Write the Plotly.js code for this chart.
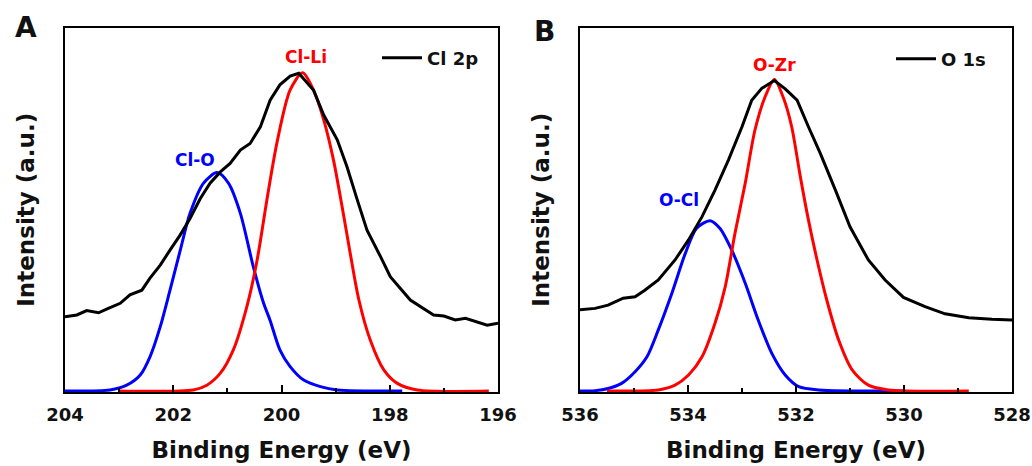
<!DOCTYPE html>
<html>
<head>
<meta charset="utf-8">
<script src="https://cdn.plot.ly/plotly-3.0.1.min.js"></script>
<style>html,body{margin:0;padding:0;background:#fff;}#chart{width:1032px;height:466px;}</style>
</head>
<body>
<div id="chart"></div>
<script>
// ---- Panel A: Cl 2p ----
const clEnergy = [204.00,203.78,203.60,203.38,203.20,202.98,202.80,202.58,202.43,202.24,202.06,201.87,201.69,201.50,201.32,201.13,200.95,200.76,200.58,200.39,200.21,200.03,199.84,199.68,199.41,199.22,198.97,198.79,198.60,198.42,198.17,197.99,197.62,197.19,197.00,196.79,196.60,196.20,196.00];
const clIntensity = [20.4,20.9,22.1,21.5,22.7,24.1,26.4,27.7,31.0,34.6,38.7,42.9,47.4,52.9,57.1,60.2,62.5,66.2,68.0,72.6,79.9,84.1,86.5,87.3,82.7,75.8,69.0,61.6,52.5,44.2,36.9,31.4,25.0,20.9,20.6,19.5,20.0,18.1,18.6];

const clLiEnergy = [203.01,201.63,201.38,201.13,200.89,200.64,200.45,200.27,200.08,199.84,199.61,199.41,199.22,199.04,198.88,198.73,198.57,198.36,198.11,197.86,197.49,196.17];
const clLiFit = [0,0.3,1.6,4.9,11.3,23.2,36.0,52.5,68.5,82.7,87.4,82.7,74.5,63.5,50.6,37.8,25.0,14.0,5.8,2.1,0.3,0];

const clOEnergy = [204.00,203.17,202.86,202.61,202.43,202.24,202.06,201.87,201.69,201.44,201.19,200.98,200.76,200.52,200.33,200.21,200.03,199.84,199.59,199.28,198.97,197.77];
const clOFit = [0,0.3,1.6,4.4,9.4,17.7,27.7,38.7,48.8,57.1,60.0,57.1,48.8,34.1,24.1,19.4,11.3,6.7,3.0,1.2,0.3,0];

// ---- Panel B: O 1s ----
const oEnergy = [536.00,535.72,535.48,535.20,534.98,534.80,534.55,534.24,533.99,533.74,533.50,533.25,533.00,532.82,532.63,532.40,532.20,531.98,531.77,531.55,531.27,531.00,530.66,530.35,530.01,529.61,529.24,528.80,528.37,528.00];
const oIntensity = [22.3,22.7,23.6,25.5,25.9,27.7,30.5,36.0,41.5,47.9,55.2,63.5,72.6,79.9,83.2,85.3,83.0,79.9,72.6,65.3,55.2,45.1,36.0,30.5,25.7,23.2,21.2,20.1,19.7,19.5];

const oZrEnergy = [535.50,534.55,534.24,533.99,533.74,533.50,533.31,533.13,532.94,532.76,532.57,532.40,532.23,532.08,531.92,531.77,531.61,531.43,531.21,530.96,530.66,530.29,528.80];
const oZrFit = [0,0.3,1.6,4.4,9.4,18.6,28.7,43.3,57.1,71.7,80.9,85.6,80.4,72.6,58.9,47.0,36.0,25.0,14.0,5.8,1.6,0.3,0];

const oClEnergy = [536.00,535.72,535.48,535.23,534.98,534.76,534.55,534.30,534.05,533.84,533.59,533.41,533.19,532.94,532.70,532.45,532.20,531.95,531.58,530.01];
const oClFit = [0,0.1,0.7,2.1,5.3,9.4,16.8,26.8,37.8,44.7,46.8,44.7,38.7,29.6,19.5,10.4,4.4,1.2,0.3,0];

const panelLetters = ['A','B'];
const seriesNames = ['Cl 2p','O 1s'];
const peakLabels = ['Cl-Li','Cl-O','O-Zr','O-Cl'];
const xTitle = 'Binding Energy (eV)';
const yTitle = 'Intensity (a.u.)';

const FONT = 'DejaVu Sans';
const BLACK = '#000000', RED = '#ff0000', BLUE = '#0000ff';
const fitLine = c => ({color:c, width:3, shape:'spline', smoothing:0.8});

const traces = [
  {x: clOEnergy, y: clOFit, xaxis:'x', yaxis:'y', mode:'lines', line:fitLine(BLUE), showlegend:false, hoverinfo:'skip'},
  {x: clLiEnergy, y: clLiFit, xaxis:'x', yaxis:'y', mode:'lines', line:fitLine(RED), showlegend:false, hoverinfo:'skip'},
  {x: clEnergy, y: clIntensity, xaxis:'x', yaxis:'y', mode:'lines', name: seriesNames[0], line:{color:BLACK,width:3}, legend:'legend'},
  {x: oClEnergy, y: oClFit, xaxis:'x2', yaxis:'y2', mode:'lines', line:fitLine(BLUE), showlegend:false, hoverinfo:'skip'},
  {x: oZrEnergy, y: oZrFit, xaxis:'x2', yaxis:'y2', mode:'lines', line:fitLine(RED), showlegend:false, hoverinfo:'skip'},
  {x: oEnergy, y: oIntensity, xaxis:'x2', yaxis:'y2', mode:'lines', name: seriesNames[1], line:{color:BLACK,width:3}, legend:'legend2'}
];

const W = 1032, H = 466;
const yDom = [(H-392)/H, (H-27.5)/H];

function xaxis(range, dom) {
  return {
    domain: dom, range: range, autorange:false,
    showline:true, linecolor:'#000', linewidth:2, mirror:true,
    showgrid:false, zeroline:false,
    ticks:'inside', ticklen:7, tickwidth:2, tickcolor:'#000',
    tickmode:'linear', tick0: range[1], dtick:2,
    minor:{ticks:'inside', ticklen:4, tickwidth:2, tickcolor:'#000', dtick:1, tick0: range[1], showgrid:false},
    tickfont:{family:FONT, size:18, color:'#111', weight:'bold'},
    ticklabelstandoff:5,
    title:{text:xTitle, font:{family:FONT, size:23, color:'#111', weight:'bold'}, standoff:18},
    automargin:false
  };
}
function yaxis(anchor) {
  return {
    domain: yDom, range:[-0.27, 99.86], autorange:false, anchor: anchor,
    showline:true, linecolor:'#000', linewidth:2, mirror:true,
    showgrid:false, zeroline:false, showticklabels:false, ticks:'',
    title:{text:yTitle, font:{family:FONT, size:23, color:'#111', weight:'bold'}, standoff:22},
    automargin:false
  };
}

const layout = {
  width: W, height: H,
  margin:{l:0, r:0, t:0, b:0},
  paper_bgcolor:'#ffffff', plot_bgcolor:'#ffffff',
  xaxis: Object.assign(xaxis([204,196], [65/W, 498/W]), {anchor:'y'}),
  yaxis: yaxis('x'),
  xaxis2: Object.assign(xaxis([536,528], [580/W, 1012/W]), {anchor:'y2'}),
  yaxis2: yaxis('x2'),
  legend: {x: 377/W, y: 1-58/H, xanchor:'left', yanchor:'middle', bgcolor:'rgba(0,0,0,0)', borderwidth:0,
           font:{family:FONT, size:18, color:'#111', weight:'bold'}, itemwidth:40, tracegroupgap:0},
  legend2: {x: 891/W, y: 1-59/H, xanchor:'left', yanchor:'middle', bgcolor:'rgba(0,0,0,0)', borderwidth:0,
           font:{family:FONT, size:18, color:'#111', weight:'bold'}, itemwidth:40, tracegroupgap:0},
  annotations: [
    {text: panelLetters[0], xref:'paper', yref:'paper', x:25.5/W, y:1-27.5/H, showarrow:false, xanchor:'center', yanchor:'middle', font:{family:FONT, size:28, color:'#111', weight:'bold'}},
    {text: panelLetters[1], xref:'paper', yref:'paper', x:544/W, y:1-31/H, showarrow:false, xanchor:'center', yanchor:'middle', font:{family:FONT, size:28, color:'#111', weight:'bold'}},
    {text: peakLabels[0], xref:'x', yref:'y', x:199.54, y:91.8, showarrow:false, font:{family:FONT, size:17, color:RED, weight:'bold'}},
    {text: peakLabels[1], xref:'x', yref:'y', x:201.60, y:63.5, showarrow:false, font:{family:FONT, size:17, color:BLUE, weight:'bold'}},
    {text: peakLabels[2], xref:'x2', yref:'y2', x:532.39, y:89.6, showarrow:false, font:{family:FONT, size:17, color:RED, weight:'bold'}},
    {text: peakLabels[3], xref:'x2', yref:'y2', x:534.17, y:52.5, showarrow:false, font:{family:FONT, size:17, color:BLUE, weight:'bold'}}
  ]
};

Plotly.newPlot('chart', traces, layout, {staticPlot:true, displayModeBar:false});
</script>
</body>
</html>
